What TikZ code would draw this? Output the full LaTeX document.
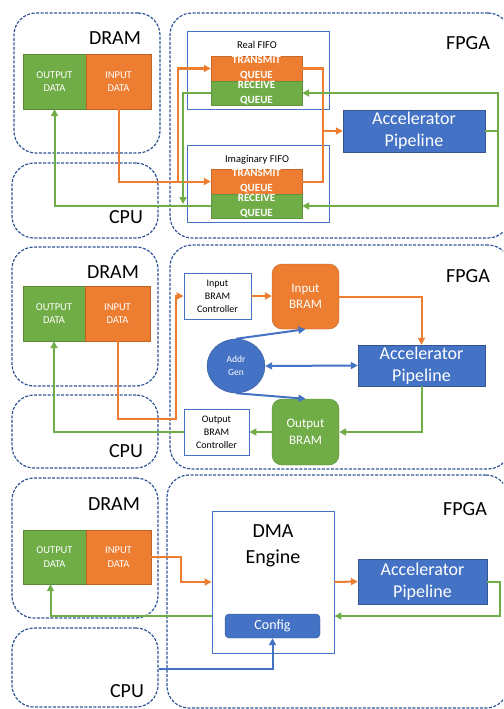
\documentclass[tikz,border=0pt]{standalone}
\usepackage{fontspec}
\setmainfont{Carlito}
\usetikzlibrary{arrows.meta, positioning, shapes.geometric}

\definecolor{edgeblue}{HTML}{2F5597}
\definecolor{boxblue}{HTML}{4472C4}
\definecolor{accgreen}{HTML}{70AD47}
\definecolor{accorange}{HTML}{ED7D31}

\begin{document}
\begin{tikzpicture}[x=1pt, y=-1pt,
      region/.style={draw=edgeblue, dash pattern=on 3pt off 1.5pt, line width=1.2pt,
                     rounded corners=22pt, inner sep=0pt},
      title/.style={font=\fontsize{20}{24}\selectfont, inner sep=0pt, anchor=base},
      data/.style={fill=#1, draw=#1!80!black, text=white, align=center, inner sep=0pt,
                   font=\fontsize{10.5}{13.5}\selectfont, minimum height=55pt},
      holder/.style={draw=boxblue, line width=0.9pt, fill=white, inner sep=0pt},
      queue/.style={fill=#1, draw=#1!85!black, text=white, align=center, inner sep=0pt,
                    minimum width=91pt, minimum height=24.5pt,
                    font=\bfseries\fontsize{11}{15}\selectfont},
      pipe/.style={fill=boxblue, draw=boxblue!75!black, text=white, align=center,
                   inner sep=0pt, font=\fontsize{18}{22}\selectfont},
      ctrl/.style={holder, align=center, font=\fontsize{10}{13}\selectfont,
                   minimum width=66pt, minimum height=46pt},
      bram/.style={fill=#1, draw=#1!80!black, rounded corners=10pt, text=white,
                   align=center, minimum width=67pt, minimum height=66pt,
                   font=\fontsize{13}{16.5}\selectfont},
      flow/.style={->, line width=2pt, draw=#1},
      >={Triangle[length=7pt, width=7pt]}]
    \useasboundingbox (0,0) rectangle (503,709);
    \clip (0,0) rectangle (503,709);

    % FIFO streaming
    \node[region, minimum width=146pt, minimum height=140pt] (dram1) at (87,83) {};
    \node[region, minimum width=146pt, minimum height=75pt] (cpu1) at (85,200.5) {};
    \node[region, minimum width=340pt, minimum height=225pt] (fpga1) at (340,125.5) {};
    \node[title] (dramlbl1) at (115,45) {DRAM};
    \node[title] (cpulbl1) at (126,223) {CPU};
    \node[title] (fpgalbl1) at (468,50) {FPGA};
    \node[data=accgreen, minimum width=63pt] (out1) at (54.5,81.5) {OUTPUT\\DATA};
    \node[data=accorange, minimum width=65pt] (in1) at (118.5,81.5) {INPUT\\DATA};
    \node[holder, minimum width=142pt, minimum height=78pt] (realf) at (258,70) {};
    \node[anchor=base, font=\fontsize{10.5}{13}\selectfont] (reallbl) at (257,48.5) {Real FIFO};
    \node[queue=accorange] (tx1) at (256.5,68.5) {TRANSMIT\\QUEUE};
    \node[queue=accgreen] (rx1) at (256.5,93) {RECEIVE\\QUEUE};
    \node[holder, minimum width=142pt, minimum height=77pt] (imagf) at (258,183.5) {};
    \node[anchor=base, font=\fontsize{10.5}{13}\selectfont] (imaglbl) at (257,162) {Imaginary FIFO};
    \node[queue=accorange] (tx2) at (256.5,181.5) {TRANSMIT\\QUEUE};
    \node[queue=accgreen] (rx2) at (256.5,206) {RECEIVE\\QUEUE};
    \node[pipe, minimum width=142pt, minimum height=42pt] (acc1) at (414,131) {Accelerator\\Pipeline};
    \coordinate (split1) at (178,181.5);
    \coordinate (join1) at (323,131);
    \coordinate (ret1) at (498,131);
    \coordinate (drop1) at (183,204);
    \draw[flow=accorange] (in1.south) |- (tx2.west);
    \draw[flow=accorange] (split1) |- (tx1.west);
    \draw[flow=accorange, -] (tx1.east) -| (join1);
    \draw[flow=accorange, -] (tx2.east) -| (join1);
    \draw[flow=accorange] (join1) -- (acc1.west);
    \draw[flow=accgreen, -] (acc1.east) -- (ret1);
    \draw[flow=accgreen] (ret1) |- (rx1.east);
    \draw[flow=accgreen] (ret1) |- (rx2.east);
    \draw[flow=accgreen] (rx1.west) -| (drop1);
    \draw[flow=accgreen] (rx2.west) -| (out1.south);

    % BRAM buffers
    \node[region, minimum width=146pt, minimum height=139pt] (dram2) at (85,316.5) {};
    \node[region, minimum width=146pt, minimum height=73pt] (cpu2) at (85,431.5) {};
    \node[region, minimum width=340pt, minimum height=224pt] (fpga2) at (340,357) {};
    \node[title] (dramlbl2) at (113,278) {DRAM};
    \node[title] (cpulbl2) at (126,457) {CPU};
    \node[title] (fpgalbl2) at (468,282) {FPGA};
    \node[data=accgreen, minimum width=62pt] (out2) at (54,313.5) {OUTPUT\\DATA};
    \node[data=accorange, minimum width=65pt] (in2) at (117.5,313.5) {INPUT\\DATA};
    \node[ctrl, minimum width=67pt] (ibc) at (217.5,296) {Input\\BRAM\\Controller};
    \node[bram=accorange, minimum height=65pt] (ibram) at (305.5,296.5) {Input\\BRAM};
    \node[ellipse, fill=boxblue, draw=boxblue!75!black, text=white, align=center,
          minimum width=58pt, minimum height=54pt, inner sep=0pt,
          font=\fontsize{9.5}{13}\selectfont] (addr) at (236,366) {Addr\\Gen};
    \node[pipe, minimum width=127pt, minimum height=41pt] (acc2) at (421.5,365.5) {Accelerator\\Pipeline};
    \node[bram=accgreen] (obram) at (305.5,432) {Output\\BRAM};
    \node[ctrl, minimum width=65pt] (obc) at (216.5,432) {Output\\BRAM\\Controller};
    \coordinate (bend2) at (176,419);
    \draw[flow=accorange] (in2.south) |- (bend2) |- (ibc.west);
    \draw[flow=accorange] (ibc.east) -- (ibram.west |- ibc.east);
    \draw[flow=accorange] (ibram.east) -| (acc2.north);
    \draw[flow=boxblue] (addr.north) -- (ibram.south);
    \draw[flow=boxblue] (addr.south) -- (obram.north);
    \draw[flow=boxblue, <->] (addr.east) -- (acc2.west);
    \draw[flow=accgreen] (acc2.south) |- (obram.east);
    \draw[flow=accgreen] (obram.west) -- (obc.east);
    \draw[flow=accgreen] (obc.west) -| (out2.south);

    % DMA engine
    \node[region, minimum width=146pt, minimum height=140pt] (dram3) at (85,548) {};
    \node[region, minimum width=146pt, minimum height=79pt] (cpu3) at (85,667.5) {};
    \node[region, minimum width=341pt, minimum height=233pt] (fpga3) at (337.5,591.5) {};
    \node[title] (dramlbl3) at (114,510) {DRAM};
    \node[title] (cpulbl3) at (127,697) {CPU};
    \node[title] (fpgalbl3) at (465,515) {FPGA};
    \node[data=accgreen, minimum width=63pt, minimum height=54pt] (out3) at (54.5,557) {OUTPUT\\DATA};
    \node[data=accorange, minimum width=65pt, minimum height=54pt] (in3) at (118.5,557) {INPUT\\DATA};
    \node[holder, minimum width=122pt, minimum height=142pt] (dma) at (273,582) {};
    \node[align=center, font=\fontsize{20}{26}\selectfont] (dmalbl) at (273,546) {DMA\\Engine};
    \node[fill=boxblue, draw=boxblue!75!black, rounded corners=4pt, text=white,
          minimum width=95pt, minimum height=24pt, inner sep=0pt,
          font=\fontsize{14}{16}\selectfont] (cfg) at (272.5,626) {Config};
    \node[pipe, minimum width=129pt, minimum height=45pt] (acc3) at (422.5,581.5) {Accelerator\\Pipeline};
    \draw[flow=accorange] (in3.east) -- ++(30,0) |- (dma.west);
    \draw[flow=accorange] (dma.east) -- (acc3.west);
    \draw[flow=accgreen] (acc3.east) -- ++(13,0) |- ([yshift=-34pt]dma.east);
    \draw[flow=accgreen] ([yshift=-34pt]dma.west) -| ([xshift=-4pt]out3.south);
    \draw[flow=boxblue] ([yshift=-1.5pt]cpu3.east) -| (cfg.south);
  \end{tikzpicture}
\end{document}
